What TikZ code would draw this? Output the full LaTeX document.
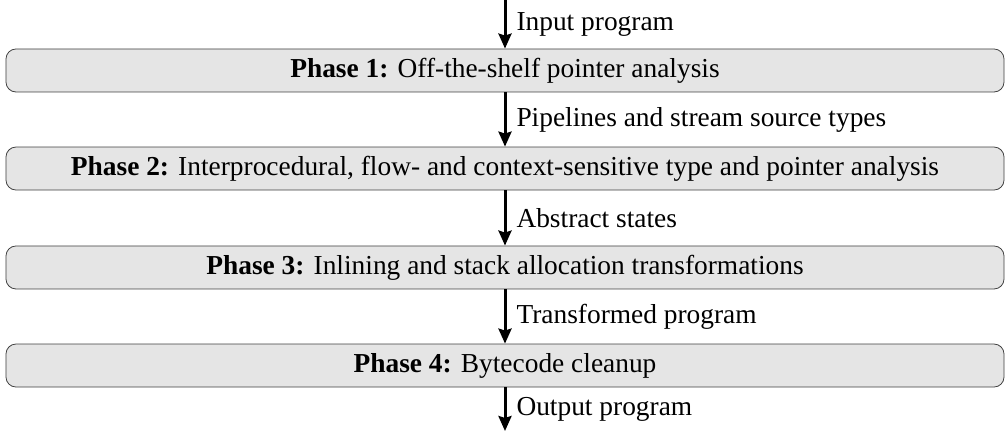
\documentclass[tikz,border=0pt]{standalone}
\usepackage{fontspec}
\setmainfont{Liberation Serif}
\usetikzlibrary{arrows.meta}

\begin{document}
\begin{tikzpicture}[
  phase/.style = {draw = black!75, fill = gray!20, rounded corners = 5pt,
    minimum width = 17.54cm, minimum height = 0.756cm, inner sep = 0pt,
    font = \fontsize{13.7}{16}\selectfont},
  flow/.style = {line width = 1.5pt, -{Stealth[length = 7.5pt, width = 6.5pt, inset = 1pt]}},
  lbl/.style = {right, inner sep = 0pt, xshift = 5pt, font = \fontsize{13.7}{16}\selectfont}
]
\useasboundingbox (0,0) rectangle (17.68,7.575);
\node[phase] (p1) at (8.875,6.336) {\textbf{Phase 1:} Off-the-shelf pointer analysis};
\node[phase] (p2) at (8.875,4.613) {\textbf{Phase 2:} Interprocedural, flow- and context-sensitive type and pointer analysis};
\node[phase] (p3) at (8.875,2.874) {\textbf{Phase 3:} Inlining and stack allocation transformations};
\node[phase] (p4) at (8.875,1.151) {\textbf{Phase 4:} Bytecode cleanup};
\coordinate (in) at (8.875,7.575);
\coordinate (out) at (8.875,0);
\draw[flow] (in) -- (p1) node[lbl, midway] {Input program};
\draw[flow] (p1) -- (p2) node[lbl, midway] {Pipelines and stream source types};
\draw[flow] (p2) -- (p3) node[lbl, midway] {Abstract states};
\draw[flow] (p3) -- (p4) node[lbl, midway] {Transformed program};
\draw[flow] (p4) -- (out) node[lbl, midway] {Output program};
\end{tikzpicture}
\end{document}
